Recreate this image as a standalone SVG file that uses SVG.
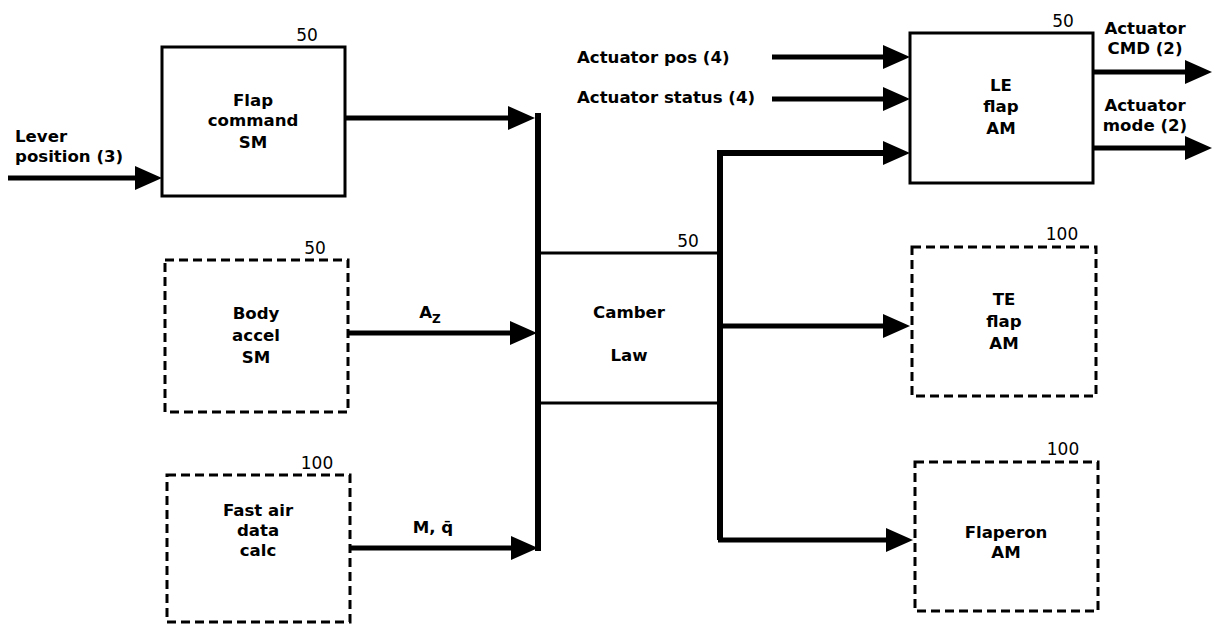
<svg xmlns="http://www.w3.org/2000/svg" width="1212" height="627" viewBox="0 0 1212 627">
<style>
text{font-family:"DejaVu Sans","Liberation Sans",sans-serif;font-weight:bold;font-size:16.6px;fill:#000}
.c{text-anchor:middle}
.num{font-weight:normal;font-size:17px}
.box{fill:none;stroke:#000;stroke-width:3}
.dash{fill:none;stroke:#000;stroke-width:3;stroke-dasharray:9 5}
.w{fill:none;stroke:#000;stroke-width:5}
.bus{fill:none;stroke:#000;stroke-width:6}
.thin{fill:none;stroke:#000;stroke-width:3}
</style>
<defs>
<marker id="ah" markerUnits="userSpaceOnUse" markerWidth="28" markerHeight="26" refX="0" refY="12" orient="auto" overflow="visible">
<path d="M0,0 L27,12 L0,24 Z" fill="#000"/>
</marker>
</defs>
<rect width="1212" height="627" fill="#fff"/>

<g id="connectors">
<path class="w" d="M8 178 H135" marker-end="url(#ah)"/>
<path class="w" d="M345 118 H508" marker-end="url(#ah)"/>
<path class="w" d="M348 333 H510" marker-end="url(#ah)"/>
<path class="w" d="M350 548 H511" marker-end="url(#ah)"/>
<path class="bus" d="M538 113 V551"/>
<path class="thin" d="M538 253 H720 M538 403 H720"/>
<path class="bus" d="M720 540 V153 H883" marker-end="url(#ah)"/>
<path class="w" d="M720 326 H883" marker-end="url(#ah)"/>
<path class="w" d="M718 540 H886" marker-end="url(#ah)"/>
<path class="w" d="M772 57 H883" marker-end="url(#ah)"/>
<path class="w" d="M772 99 H883" marker-end="url(#ah)"/>
<path class="w" d="M1093 72 H1185" marker-end="url(#ah)"/>
<path class="w" d="M1093 148 H1185" marker-end="url(#ah)"/>
<text x="430" y="318" class="c">A<tspan font-size="12" dy="5">Z</tspan></text>
<text x="433" y="533" class="c">M, q̄</text>
<text x="15" y="142">Lever</text>
<text x="15" y="162">position (3)</text>
<text x="577" y="63">Actuator pos (4)</text>
<text x="577" y="103">Actuator status (4)</text>
<text x="1145" y="34" class="c">Actuator</text>
<text x="1145" y="54" class="c">CMD (2)</text>
<text x="1145" y="111" class="c">Actuator</text>
<text x="1145" y="131" class="c">mode (2)</text>
</g>

<g id="flap-command-sm">
<rect class="box" x="162" y="47" width="183" height="149"/>
<text x="307" y="41" class="c num">50</text>
<text x="253" y="106" class="c">Flap</text>
<text x="253" y="126" class="c">command</text>
<text x="253" y="148" class="c">SM</text>
</g>

<g id="body-accel-sm">
<rect class="dash" x="165" y="260" width="183" height="152"/>
<text x="315" y="254" class="c num">50</text>
<text x="256" y="319" class="c">Body</text>
<text x="256" y="341" class="c">accel</text>
<text x="256" y="363" class="c">SM</text>
</g>

<g id="fast-air-data-calc">
<rect class="dash" x="167" y="475" width="183" height="147"/>
<text x="317" y="469" class="c num">100</text>
<text x="258" y="516" class="c">Fast air</text>
<text x="258" y="536" class="c">data</text>
<text x="258" y="556" class="c">calc</text>
</g>

<g id="camber-law">
<text x="688" y="247" class="c num">50</text>
<text x="629" y="318" class="c">Camber</text>
<text x="629" y="361" class="c">Law</text>
</g>

<g id="le-flap-am">
<rect class="box" x="910" y="33" width="183" height="150"/>
<text x="1063" y="27" class="c num">50</text>
<text x="1001" y="91" class="c">LE</text>
<text x="1001" y="112" class="c">flap</text>
<text x="1001" y="134" class="c">AM</text>
</g>

<g id="te-flap-am">
<rect class="dash" x="912" y="247" width="184" height="149"/>
<text x="1062" y="240" class="c num">100</text>
<text x="1004" y="305" class="c">TE</text>
<text x="1004" y="327" class="c">flap</text>
<text x="1004" y="349" class="c">AM</text>
</g>

<g id="flaperon-am">
<rect class="dash" x="915" y="462" width="183" height="149"/>
<text x="1063" y="455" class="c num">100</text>
<text x="1006" y="538" class="c">Flaperon</text>
<text x="1006" y="558" class="c">AM</text>
</g>
</svg>
